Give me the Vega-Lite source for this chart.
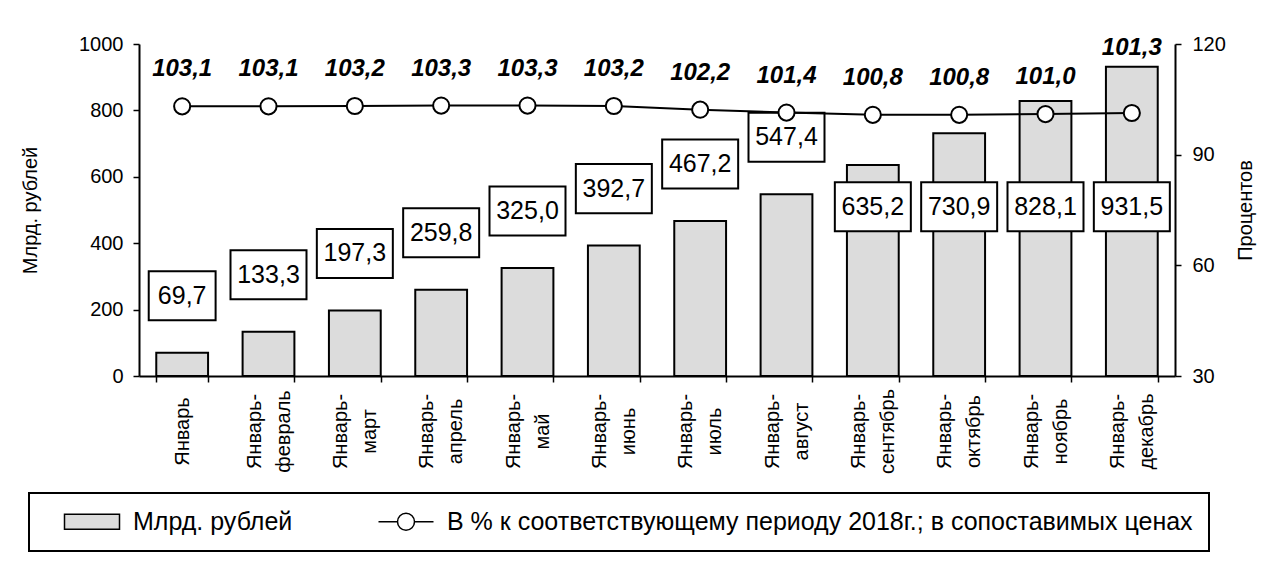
{
  "$schema": "https://vega.github.io/schema/vega-lite/v6.json",
  "width": 1036,
  "height": 332,
  "autosize": {"type": "none"},
  "padding": {"left": 139, "top": 44, "right": 99, "bottom": 204},
  "background": "white",
  "config": {
    "view": {"stroke": null},
    "font": "Liberation Sans",
    "locale": {"number": {"decimal": ",", "thousands": "\u00a0", "grouping": [3], "currency": ["", ""]}},
    "axis": {
      "domainColor": "black", "domainWidth": 2, "tickColor": "black", "tickWidth": 1.5, "tickSize": 6,
      "labelColor": "black", "labelFont": "Liberation Sans", "labelFontSize": 20,
      "titleColor": "black", "titleFont": "Liberation Sans", "titleFontSize": 20, "titleFontWeight": "normal",
      "grid": false
    }
  },
  "data": {"values": [
    {"period": "Январь", "v": 69.7, "p": 103.1},
    {"period": "Январь-февраль", "v": 133.3, "p": 103.1},
    {"period": "Январь-март", "v": 197.3, "p": 103.2},
    {"period": "Январь-апрель", "v": 259.8, "p": 103.3},
    {"period": "Январь-май", "v": 325.0, "p": 103.3},
    {"period": "Январь-июнь", "v": 392.7, "p": 103.2},
    {"period": "Январь-июль", "v": 467.2, "p": 102.2},
    {"period": "Январь-август", "v": 547.4, "p": 101.4},
    {"period": "Январь-сентябрь", "v": 635.2, "p": 100.8},
    {"period": "Январь-октябрь", "v": 730.9, "p": 100.8},
    {"period": "Январь-ноябрь", "v": 828.1, "p": 101.0},
    {"period": "Январь-декабрь", "v": 931.5, "p": 101.3}
  ]},
  "layer": [
    {
      "encoding": {
        "x": {
          "field": "period", "type": "nominal", "sort": null,
          "scale": {"paddingInner": 0.4, "paddingOuter": 0.2},
          "axis": {
            "title": null, "labelAngle": -90, "labelAlign": "center", "labelBaseline": "middle",
            "labelPadding": 49, "labelLineHeight": 14.5, "labelOffset": -14.5, "tickBand": "extent",
            "labelExpr": "indexof(datum.label, '-') < 0 ? ['\u200b', datum.label] : [split(datum.label, '-')[0] + '-', '\u200b', split(datum.label, '-')[1]]"
          }
        },
        "y": {
          "field": "v", "type": "quantitative",
          "scale": {"domain": [0, 1000], "nice": false},
          "axis": {
            "title": "Млрд. рублей", "values": [0, 200, 400, 600, 800, 1000], "format": "d",
            "labelPadding": 10, "titleAngle": -90, "titleX": -109, "titleY": 166,
            "titleAlign": "center", "titleBaseline": "middle"
          }
        }
      },
      "layer": [
        {
          "mark": {"type": "bar", "fill": "#dcdcdc", "stroke": "black", "strokeWidth": 2}
        },
        {
          "transform": [{"filter": "datum.v < 600"}],
          "mark": {"type": "point", "filled": true, "fill": "white", "stroke": "black", "strokeWidth": 2, "opacity": 1, "size": 5776, "yOffset": -57},
          "encoding": {
            "shape": {"condition": {"test": "datum.v < 100", "value": "M-0.88,-0.645H0.88V0.645H-0.88Z"}, "value": "M-1,-0.645H1V0.645H-1Z"}
          }
        },
        {
          "transform": [{"filter": "datum.v < 600"}],
          "mark": {"type": "text", "font": "Liberation Sans", "fontSize": 25, "color": "black", "baseline": "middle", "dy": -57},
          "encoding": {
            "text": {"field": "v", "type": "quantitative", "format": ".1f"}
          }
        },
        {
          "transform": [{"filter": "datum.v >= 600"}],
          "mark": {"type": "point", "filled": true, "fill": "white", "stroke": "black", "strokeWidth": 2, "opacity": 1, "size": 5776, "shape": "M-1,-0.645H1V0.645H-1Z"},
          "encoding": {
            "y": {
              "datum": 510, "type": "quantitative",
              "axis": {
                "title": "Млрд. рублей", "values": [0, 200, 400, 600, 800, 1000], "format": "d",
                "labelPadding": 10, "titleAngle": -90, "titleX": -109, "titleY": 166,
                "titleAlign": "center", "titleBaseline": "middle"
              }
            }
          }
        },
        {
          "transform": [{"filter": "datum.v >= 600"}],
          "mark": {"type": "text", "font": "Liberation Sans", "fontSize": 25, "color": "black", "baseline": "middle"},
          "encoding": {
            "y": {
              "datum": 510, "type": "quantitative",
              "axis": {
                "title": "Млрд. рублей", "values": [0, 200, 400, 600, 800, 1000], "format": "d",
                "labelPadding": 10, "titleAngle": -90, "titleX": -109, "titleY": 166,
                "titleAlign": "center", "titleBaseline": "middle"
              }
            },
            "text": {"field": "v", "type": "quantitative", "format": ".1f"}
          }
        }
      ]
    },
    {
      "encoding": {
        "x": {"field": "period", "type": "nominal", "sort": null},
        "y": {
          "field": "p", "type": "quantitative",
          "scale": {"domain": [30, 120], "nice": false, "zero": false},
          "axis": {
            "orient": "right", "title": "Процентов", "values": [30, 60, 90, 120], "format": "d",
            "labelPadding": 11, "titleAngle": -90, "titleX": 70, "titleY": 166,
            "titleAlign": "center", "titleBaseline": "middle"
          }
        }
      },
      "layer": [
        {
          "mark": {"type": "line", "color": "black", "strokeWidth": 2}
        },
        {
          "mark": {"type": "point", "filled": true, "fill": "white", "stroke": "black", "strokeWidth": 2, "opacity": 1, "size": 260, "shape": "circle"}
        },
        {
          "transform": [{"filter": "datum.v < 900"}],
          "mark": {"type": "text", "font": "Liberation Sans", "fontSize": 24, "fontWeight": "bold", "fontStyle": "italic", "color": "black", "baseline": "middle", "dy": -37},
          "encoding": {
            "text": {"field": "p", "type": "quantitative", "format": ".1f"}
          }
        },
        {
          "transform": [{"filter": "datum.v >= 900"}],
          "mark": {"type": "text", "font": "Liberation Sans", "fontSize": 24, "fontWeight": "bold", "fontStyle": "italic", "color": "black", "baseline": "middle", "dy": -65},
          "encoding": {
            "text": {"field": "p", "type": "quantitative", "format": ".1f"}
          }
        }
      ]
    },
    {
      "data": {"values": [
        {"s": "Млрд. рублей"},
        {"s": "В % к соответствующему периоду 2018г.; в сопоставимых ценах"}
      ]},
      "mark": {"type": "point", "filled": true, "opacity": 0, "stroke": "black"},
      "encoding": {
        "shape": {
          "field": "s", "type": "nominal",
          "scale": {
            "domain": ["Млрд. рублей", "В % к соответствующему периоду 2018г.; в сопоставимых ценах"],
            "range": ["M-2.75,-0.75H2.75V0.75H-2.75Z", "M-2.75,0H-0.85M0.85,0H2.75M-0.85,0A0.85,0.85,0,1,1,0.85,0A0.85,0.85,0,1,1,-0.85,0Z"]
          },
          "legend": {
            "orient": "none", "legendX": -110, "legendY": 449, "direction": "horizontal", "title": null,
            "padding": 16, "strokeColor": "black", "symbolSize": 400, "symbolStrokeColor": "black",
            "symbolStrokeWidth": 1.5, "symbolOpacity": 1, "labelFont": "Liberation Sans", "labelFontSize": 25,
            "labelColor": "black", "labelLimit": 1200, "labelOffset": 28.5, "columnPadding": 66, "symbolOffset": 34.5,
            "encode": {"legend": {"update": {"strokeWidth": {"value": 2}}}, "symbols": {"update": {"opacity": {"value": 1}}}}
          }
        },
        "fill": {
          "field": "s", "type": "nominal",
          "scale": {
            "domain": ["Млрд. рублей", "В % к соответствующему периоду 2018г.; в сопоставимых ценах"],
            "range": ["#dcdcdc", "white"]
          },
          "legend": {
            "orient": "none", "legendX": -110, "legendY": 449, "direction": "horizontal", "title": null,
            "padding": 16, "strokeColor": "black", "symbolSize": 400, "symbolStrokeColor": "black",
            "symbolStrokeWidth": 1.5, "symbolOpacity": 1, "labelFont": "Liberation Sans", "labelFontSize": 25,
            "labelColor": "black", "labelLimit": 1200, "labelOffset": 28.5, "columnPadding": 66, "symbolOffset": 34.5,
            "encode": {"legend": {"update": {"strokeWidth": {"value": 2}}}, "symbols": {"update": {"opacity": {"value": 1}}}}
          }
        }
      }
    }
  ],
  "resolve": {"scale": {"y": "independent"}}
}
